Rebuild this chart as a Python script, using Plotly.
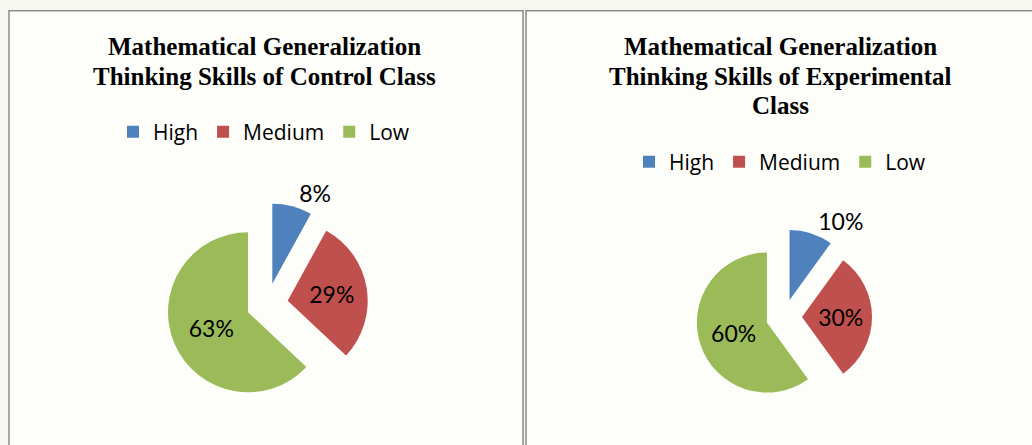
import plotly.graph_objects as go

labels = ["High", "Medium", "Low"]
control_values = [8, 29, 63]
experimental_values = [10, 30, 60]
colors = ["#4f81bd", "#c0504d", "#9bbb59"]
control_title = ["Mathematical Generalization", "Thinking Skills of Control Class"]
experimental_title = ["Mathematical Generalization", "Thinking Skills of Experimental", "Class"]

W, H = 1032, 445

fig = go.Figure()
fig.add_trace(go.Pie(
    labels=labels, values=control_values, sort=False, direction="clockwise",
    rotation=0, pull=[0.26, 0.26, 0.26],
    marker=dict(colors=colors, line=dict(width=0)),
    textinfo="percent", textposition=["outside", "inside", "inside"],
    textfont=dict(family="Lato", size=23, color="black"),
    insidetextorientation="horizontal",
    domain=dict(x=[0.1611, 0.3566], y=[0.0903, 0.5434]),
    legend="legend", legendgroup="control", showlegend=True,
    hoverinfo="label+percent",
))
fig.add_trace(go.Pie(
    labels=labels, values=experimental_values, sort=False, direction="clockwise",
    rotation=0, pull=[0.257, 0.257, 0.257],
    marker=dict(colors=colors, line=dict(width=0)),
    textinfo="percent", textposition=["outside", "inside", "inside"],
    textfont=dict(family="Lato", size=23, color="black"),
    insidetextorientation="horizontal",
    domain=dict(x=[0.6744, 0.845], y=[0.0899, 0.4854]),
    legend="legend2", legendgroup="experimental", showlegend=True,
    hoverinfo="label+percent",
))

legend_common = dict(
    orientation="h", xanchor="center", yanchor="middle",
    font=dict(family="Open Sans", size=21, color="black"),
    bgcolor="rgba(0,0,0,0)", itemwidth=30, traceorder="normal",
)

# panel borders
shapes = []
for x0, x1 in [(9, 523), (526, 1040)]:
    shapes.append(dict(type="rect", xref="paper", yref="paper",
                       x0=x0 / W, x1=x1 / W, y0=-0.1, y1=1 - 10.8 / H,
                       line=dict(color="#8c8c8c", width=1.5),
                       fillcolor="#fdfdf9", layer="below"))

annotations = []
title_font = dict(family="Liberation Serif", size=25, color="black")
for cx, lines in [(264, control_title), (780, experimental_title)]:
    for i, line in enumerate(lines):
        annotations.append(dict(
            text="<b>" + line + "</b>", x=cx / W, y=1 - (47 + 29 * i) / H,
            xref="paper", yref="paper", xanchor="center", yanchor="middle",
            showarrow=False, font=title_font))

fig.update_layout(
    width=W, height=H,
    margin=dict(l=0, r=0, t=0, b=0),
    paper_bgcolor="#f7f7f2", plot_bgcolor="#f7f7f2",
    shapes=shapes, annotations=annotations,
    legend=dict(x=264 / W, y=1 - 132 / H, **legend_common),
    legend2=dict(x=780 / W, y=1 - 162 / H, **legend_common),
)

fig.write_html("out.html",
               config={"displayModeBar": False},
               post_script="document.body.style.margin='0';"
                           "document.body.style.background='#f7f7f2';")
